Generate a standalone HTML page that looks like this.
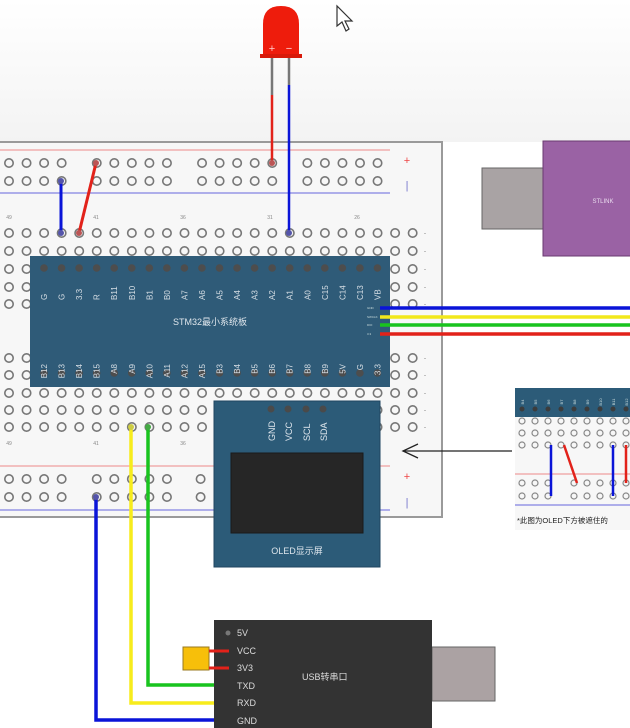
<!DOCTYPE html>
<html><head><meta charset="utf-8"><style>
html,body{margin:0;padding:0;background:#fff;}
svg{display:block;font-family:"Liberation Sans","Noto Sans CJK SC",sans-serif;}
</style></head><body>
<svg id="s" width="630" height="728" viewBox="0 0 630 728" xmlns="http://www.w3.org/2000/svg">
<defs><linearGradient id="bg" x1="0" y1="0" x2="0" y2="1"><stop offset="0" stop-color="#ffffff"/><stop offset="1" stop-color="#f3f3f3"/></linearGradient></defs>
<rect width="630" height="142" fill="url(#bg)"/>
<!-- breadboard -->
<rect x="-5" y="142" width="447" height="375" fill="#f7f7f7" stroke="#9a9a9a" stroke-width="2"/>
<line x1="0" y1="150" x2="390" y2="150" stroke="#e88" stroke-width="1"/>
<line x1="0" y1="193" x2="390" y2="193" stroke="#66d" stroke-width="1"/>
<line x1="0" y1="466" x2="390" y2="466" stroke="#e88" stroke-width="1"/>
<line x1="0" y1="510" x2="390" y2="510" stroke="#66d" stroke-width="1"/>
<text x="407" y="164" fill="#e44" font-size="11" text-anchor="middle">+</text>
<text x="407" y="189" fill="#77c" font-size="11" text-anchor="middle">|</text>
<text x="407" y="480" fill="#e44" font-size="11" text-anchor="middle">+</text>
<text x="407" y="506" fill="#77c" font-size="11" text-anchor="middle">|</text>
<g id="holes" fill="none" stroke="#777" stroke-width="1.6"></g>
<g font-size="5" fill="#888" text-anchor="middle">
<text x="9" y="219">49</text><text x="96" y="219">41</text><text x="183" y="219">36</text><text x="270" y="219">31</text><text x="357" y="219">26</text>
<text x="9" y="445">49</text><text x="96" y="445">41</text><text x="183" y="445">36</text>
</g>
<!-- STM32 -->
<rect x="30" y="256" width="360" height="131" fill="#2f5b78"/>
<g id="pins"></g>
<text x="210" y="325" fill="#dfe6ec" font-size="9" text-anchor="middle">STM32最小系统板</text>
<g font-size="3" fill="#cdd">
<text x="367" y="309">GND</text><text x="367" y="318">SWCLK</text><text x="367" y="326">DIO</text><text x="367" y="335">3.3</text>
</g>
<!-- right wires -->
<line x1="380" y1="308" x2="630" y2="308" stroke="#0a14d8" stroke-width="3.5"/>
<line x1="380" y1="317" x2="630" y2="317" stroke="#f2e81c" stroke-width="3.5"/>
<line x1="380" y1="325" x2="630" y2="325" stroke="#19c41e" stroke-width="3.5"/>
<line x1="380" y1="334" x2="630" y2="334" stroke="#e2221a" stroke-width="3.5"/>
<!-- top wires -->
<line x1="61" y1="181" x2="61" y2="233" stroke="#0a14d8" stroke-width="3"/>
<line x1="96" y1="163" x2="79" y2="233" stroke="#e2221a" stroke-width="3"/>
<circle cx="61" cy="181" r="3" fill="#55a"/><circle cx="61" cy="233" r="3" fill="#55a"/>
<circle cx="96" cy="163" r="3" fill="#b55"/><circle cx="79" cy="233" r="3" fill="#b55"/>
<!-- LED -->
<line x1="272" y1="58" x2="272" y2="95" stroke="#777" stroke-width="2.5"/>
<line x1="289" y1="58" x2="289" y2="85" stroke="#777" stroke-width="2.5"/>
<line x1="272" y1="95" x2="272" y2="163" stroke="#e2221a" stroke-width="2.5"/>
<line x1="289" y1="85" x2="289" y2="233" stroke="#0a14d8" stroke-width="2.5"/>
<circle cx="272" cy="163" r="3" fill="#b55"/><circle cx="289" cy="233" r="3" fill="#55a"/>
<path d="M263 55 L263 24 Q263 6 281 6 Q299 6 299 24 L299 55 Z" fill="#ee1c0c"/>
<rect x="260" y="54" width="42" height="4" fill="#d81a0a"/>
<text x="272" y="52" fill="#fcc" font-size="11" text-anchor="middle">+</text>
<text x="289" y="52" fill="#fcc" font-size="11" text-anchor="middle">−</text>
<!-- cursor -->
<path d="M337 6 L337 26 L342 22 L346 31 L349 29 L345 21 L352 21 Z" fill="#fff" stroke="#333" stroke-width="1.2"/>
<!-- STLINK -->
<rect x="482" y="168" width="62" height="61" fill="#a9a3a4" stroke="#666" stroke-width="1"/>
<rect x="543" y="141" width="90" height="115" fill="#9a62a4" stroke="#6a3a70" stroke-width="1"/>
<text x="603" y="203" fill="#eadcef" font-size="6" text-anchor="middle">STLINK</text>
<!-- lower wires -->
<path d="M96 497 L96 720 L229 720" fill="none" stroke="#0a14d8" stroke-width="3.5"/>
<path d="M131 427 L131 703 L229 703" fill="none" stroke="#f7ec1c" stroke-width="3.5"/>
<path d="M148 427 L148 685 L229 685" fill="none" stroke="#19c41e" stroke-width="3.5"/>
<circle cx="96" cy="497" r="3" fill="#55a"/>
<circle cx="131" cy="427" r="3" fill="#cc4"/><circle cx="148" cy="427" r="3" fill="#4a4"/>
<!-- OLED -->
<rect x="214" y="401" width="166" height="166" fill="#2c5b78" stroke="#1f4660" stroke-width="1"/>
<g fill="#4a4a4a"><circle cx="271" cy="409" r="3.5"/><circle cx="288" cy="409" r="3.5"/><circle cx="306" cy="409" r="3.5"/><circle cx="323" cy="409" r="3.5"/></g>
<g fill="#dde5ec" font-size="9">
<text transform="translate(275,441) rotate(-90)">GND</text>
<text transform="translate(292,441) rotate(-90)">VCC</text>
<text transform="translate(310,441) rotate(-90)">SCL</text>
<text transform="translate(327,441) rotate(-90)">SDA</text>
</g>
<rect x="231" y="453" width="132" height="80" fill="#262626" stroke="#1a1a1a"/>
<text x="297" y="554" fill="#dde5ec" font-size="9" text-anchor="middle">OLED显示屏</text>
<!-- arrow -->
<line x1="512" y1="451" x2="403" y2="451" stroke="#222" stroke-width="1.3"/>
<path d="M418 444 L403 451 L418 458" fill="none" stroke="#222" stroke-width="1.3"/>
<!-- inset -->
<rect x="515" y="388" width="120" height="142" fill="#f7f7f7"/>
<rect x="515" y="388" width="120" height="29" fill="#2c5b78"/>
<g id="inset"></g>
<line x1="515" y1="474" x2="630" y2="474" stroke="#e88" stroke-width="1"/>
<line x1="515" y1="505" x2="630" y2="505" stroke="#66d" stroke-width="1"/>
<line x1="551" y1="445" x2="551" y2="496" stroke="#0a14d8" stroke-width="2.5"/>
<line x1="564" y1="445" x2="577" y2="483" stroke="#e2221a" stroke-width="2.5"/>
<line x1="613" y1="445" x2="613" y2="496" stroke="#0a14d8" stroke-width="2.5"/>
<line x1="626" y1="445" x2="626" y2="483" stroke="#e2221a" stroke-width="2.5"/>
<text x="517" y="523" fill="#222" font-size="7.5">*此图为OLED下方被遮住的</text>
<!-- USB -->
<rect x="432" y="647" width="63" height="54" fill="#aba2a3" stroke="#666"/>
<rect x="214" y="620" width="218" height="110" fill="#333333"/>
<rect x="183" y="647" width="26" height="23" fill="#f7bf0a" stroke="#9a7a20"/>
<line x1="209" y1="651" x2="229" y2="651" stroke="#e2221a" stroke-width="3"/>
<line x1="209" y1="668" x2="229" y2="668" stroke="#e2221a" stroke-width="3"/>
<circle cx="228" cy="633" r="2.5" fill="#777"/>
<g fill="#dcdcdc" font-size="9">
<text x="237" y="636">5V</text><text x="237" y="654">VCC</text><text x="237" y="671">3V3</text>
<text x="237" y="689">TXD</text><text x="237" y="706">RXD</text><text x="237" y="724">GND</text>
<text x="302" y="680">USB转串口</text>
</g>
</svg>
<script>
var NS="http://www.w3.org/2000/svg";
function el(p,t,a){var e=document.createElementNS(NS,t);for(var k in a)e.setAttribute(k,a[k]);p.appendChild(e);return e;}
var h=document.getElementById("holes"),st=17.55;
function hole(x,y){el(h,"circle",{cx:x,cy:y,r:4.2});}
var groups=[0,5,11,17];var cnt=[4,5,5,5];
[163,181,479,497].forEach(function(y,ri){
 for(var g=0;g<4;g++){for(var i=0;i<cnt[g];i++){var c=groups[g]+i;var x=9+c*st;if(ri>=2&&x>200)continue;hole(x,y);}}
});
hole(200.6,479);hole(200.6,497);
[233,251,269,287,304,358,375,393,410,427].forEach(function(y){for(var c=0;c<24;c++)hole(9+c*st,y);});
[233,251,269,287,304,358,375,393,410,427].forEach(function(y){el(h,"text",{x:424,y:y+2,"font-size":"6",fill:"#666",stroke:"none"}).textContent="-";});
var p=document.getElementById("pins");
var topL=["G","G","3.3","R","B11","B10","B1","B0","A7","A6","A5","A4","A3","A2","A1","A0","C15","C14","C13","VB"];
var botL=["B12","B13","B14","B15","A8","A9","A10","A11","A12","A15","B3","B4","B5","B6","B7","B8","B9","5V","G","3.3"];
for(var i=0;i<20;i++){var x=44+i*st;
 el(p,"circle",{cx:x,cy:268,r:3.8,fill:"#4d4d4d"});
 el(p,"circle",{cx:x,cy:373,r:3.8,fill:"#4d4d4d"});
 el(p,"text",{transform:"translate("+(x+3)+",300) rotate(-90)","text-anchor":"start","font-size":"8",fill:"#d6dee5"}).textContent=topL[i];
 el(p,"text",{transform:"translate("+(x+3)+",364) rotate(-90)","text-anchor":"end","font-size":"8",fill:"#d6dee5"}).textContent=botL[i];
}
var ins=document.getElementById("inset");
for(var i=0;i<9;i++){var x=522+i*13;
 el(ins,"circle",{cx:x,cy:409,r:2.5,fill:"#3c3c3c"});
 el(ins,"text",{transform:"translate("+(x+2)+",402) rotate(-90)","font-size":"4",fill:"#cdd","text-anchor":"middle"}).textContent="B"+(i+4);
 [421,433,445].forEach(function(y){el(ins,"circle",{cx:x,cy:y,r:3,fill:"none",stroke:"#888","stroke-width":1.2});});
 if(i!=3){[483,496].forEach(function(y){el(ins,"circle",{cx:x,cy:y,r:3,fill:"none",stroke:"#888","stroke-width":1.2});});}
}
</script>
</body></html>
